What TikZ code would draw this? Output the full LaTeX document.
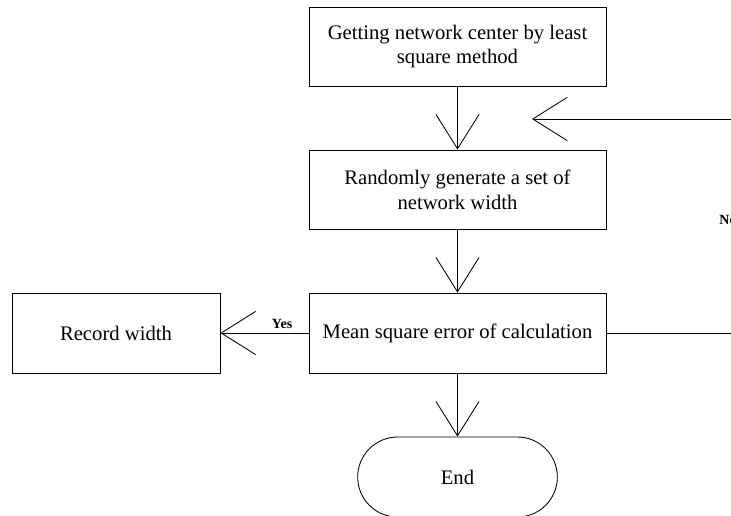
\documentclass[tikz,border=0pt]{standalone}
\usepackage{fontspec}
\setmainfont{Liberation Serif}
\usepackage{tikz}
\usetikzlibrary{positioning,shapes.misc,arrows.meta,calc}
\newcommand{\openarrow}{-{Straight Barb[length=8.6mm,width=10.8mm]}}

\begin{document}
\begin{tikzpicture}[x=0.025cm,y=-0.025cm,line width=0.6pt,
    stepbox/.style={draw,rectangle,align=center,minimum width=7.425cm,minimum height=1.975cm,font=\fontsize{14.7}{17.7}\selectfont},
    endbox/.style={draw,rounded rectangle,minimum width=5.225cm,minimum height=2cm,font=\fontsize{14.7}{17.7}\selectfont},
    tag/.style={font=\fontsize{10}{12}\selectfont\bfseries,inner sep=0pt}]
            \useasboundingbox (0,0) rectangle (731,515);
            \node[stepbox] (center) at (457.5,46.5) {Getting network center by least\\square method};
            \node[stepbox] (width) at (457.5,189.5) {Randomly generate a set of\\network width};
            \node[stepbox,minimum height=2cm] (error) at (457.5,333) {Mean square error of calculation};
            \node[stepbox,minimum width=5.2cm,minimum height=2cm] (record) at (116,333) {Record width};
            \node[endbox] (end) at (457.5,477) {End};
            \coordinate (loopin) at (532,119);
            \coordinate (loopr) at (775,333);
            \coordinate (loopt) at (775,119);
            \draw[\openarrow] (center) -- (width);
            \draw[\openarrow] (width) -- (error);
            \draw[\openarrow] (error) -- (end);
            \draw[\openarrow] (error) -- node[tag,pos=0.3,above=3pt] {Yes} (record);
            \draw[\openarrow] (error.east) -- (loopr) -- node[tag,pos=0.53,left=27pt] {No} (loopt) -- (loopin);
        \end{tikzpicture}
\end{document}
